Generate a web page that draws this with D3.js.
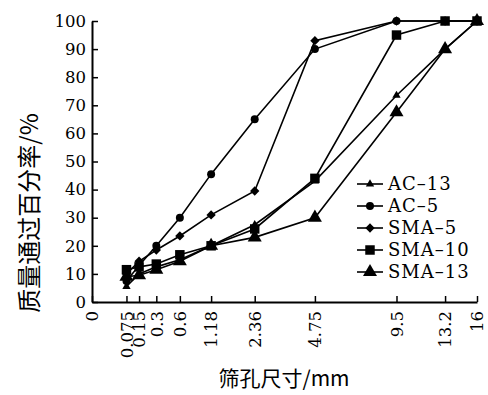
<!DOCTYPE html>
<html>
<head>
<meta charset="utf-8">
<script src="https://cdn.jsdelivr.net/npm/d3@7"></script>
<style>
  body { margin: 0; background: #fff; }
  svg { display: block; }
</style>
</head>
<body>
<div id="chart"></div>
<script>
// sieve sizes (mm) and passing percentages
var sieves = [0.075, 0.15, 0.3, 0.6, 1.18, 2.36, 4.75, 9.5, 13.2, 16];
var xTicks = [0, 0.075, 0.15, 0.3, 0.6, 1.18, 2.36, 4.75, 9.5, 13.2, 16];
var yTicks = [0, 10, 20, 30, 40, 50, 60, 70, 80, 90, 100];

var seriesNames = ["AC–13", "AC–5", "SMA–5", "SMA–10", "SMA–13"];
var ac13  = [5.5, 10, 12.5, 15, 20, 27.5, 43, 73.5, 90, 100];
var ac5   = [7.5, 13, 20, 30, 45.5, 65, 90, 100, 100, 100];
var sma5  = [10, 14.5, 18.5, 23.5, 31, 39.5, 93, 100, 100, 100];
var sma10 = [11.5, 12.5, 13.5, 16.8, 20, 26, 44, 95, 100, 100];
var sma13 = [9, 9.5, 11.5, 14.5, 20, 23, 30, 67.5, 90, 100];

var seriesValues = [ac13, ac5, sma5, sma10, sma13];
var markers = [
  {type: d3.symbolTriangle, size: 30},
  {type: d3.symbolCircle, size: 50},
  {type: d3.symbolDiamond2, size: 55},
  {type: d3.symbolSquare, size: 90},
  {type: d3.symbolTriangle, size: 85}
];

var width = 488, height = 395;
var numFont = "'DejaVu Serif', 'Liberation Serif', serif";
var cjkFont = "'Noto Sans CJK SC', sans-serif";

var svg = d3.select("#chart")
  .append("svg")
  .attr("width", width)
  .attr("height", height);

var x = d3.scalePow()
  .exponent(0.45)
  .domain([0, 16])
  .range([92, 477]);

var y = d3.scaleLinear()
  .domain([0, 100])
  .range([302, 21]);

// y axis, ticks pointing inward
var yAxis = svg.append("g")
  .attr("transform", "translate(92,0)")
  .call(d3.axisLeft(y).tickValues(yTicks).tickSize(-6).tickSizeOuter(0).tickPadding(6));
yAxis.select(".domain").attr("stroke-width", 2);
yAxis.selectAll(".tick line").attr("stroke-width", 1.5);
yAxis.selectAll("text")
  .style("font-family", numFont)
  .style("font-size", "16.5px")
  .attr("fill", "#000");

// x axis, rotated labels
var xAxis = svg.append("g")
  .attr("transform", "translate(0,302)")
  .call(d3.axisBottom(x).tickValues(xTicks).tickSize(-6).tickSizeOuter(0)
    .tickFormat(function(d) { return String(d); }));
xAxis.select(".domain").attr("stroke-width", 2);
xAxis.selectAll(".tick line").attr("stroke-width", 1.5);
xAxis.selectAll("text")
  .attr("transform", "rotate(-90)")
  .attr("x", -9)
  .attr("y", 0)
  .attr("dy", "0.35em")
  .style("text-anchor", "end")
  .style("font-family", numFont)
  .style("font-size", "16.5px")
  .attr("fill", "#000");

// lines + markers
var line = d3.line()
  .x(function(d, i) { return x(sieves[i]); })
  .y(function(d) { return y(d); });

seriesValues.forEach(function(vals, k) {
  svg.append("path")
    .datum(vals)
    .attr("d", line)
    .attr("fill", "none")
    .attr("stroke", "#000")
    .attr("stroke-width", 1.6);

  svg.append("g")
    .selectAll("path")
    .data(vals)
    .enter()
    .append("path")
      .attr("transform", function(d, i) { return "translate(" + x(sieves[i]) + "," + y(d) + ")"; })
      .attr("d", d3.symbol().type(markers[k].type).size(markers[k].size))
      .attr("fill", "#000");
});

// legend
var legend = svg.append("g");
seriesNames.forEach(function(name, k) {
  var ly = 184 + k * 22;
  legend.append("line")
    .attr("x1", 357).attr("x2", 383)
    .attr("y1", ly).attr("y2", ly)
    .attr("stroke", "#000")
    .attr("stroke-width", 1.6);
  legend.append("path")
    .attr("transform", "translate(370," + ly + ")")
    .attr("d", d3.symbol().type(markers[k].type).size(markers[k].size))
    .attr("fill", "#000");
  legend.append("text")
    .attr("x", 388)
    .attr("y", ly)
    .attr("dy", "0.35em")
    .style("font-family", numFont)
    .style("font-size", "18px")
    .style("letter-spacing", "1px")
    .text(name);
});

// axis titles
svg.append("text")
  .attr("transform", "translate(30,213) rotate(-90)")
  .attr("dy", "0.35em")
  .style("text-anchor", "middle")
  .style("font-family", cjkFont)
  .style("font-size", "24px")
  .text("质量通过百分率/%");

svg.append("text")
  .attr("x", 284)
  .attr("y", 379)
  .attr("dy", "0.35em")
  .style("text-anchor", "middle")
  .style("font-family", cjkFont)
  .style("font-size", "21px")
  .text("筛孔尺寸/mm");
</script>
</body>
</html>
